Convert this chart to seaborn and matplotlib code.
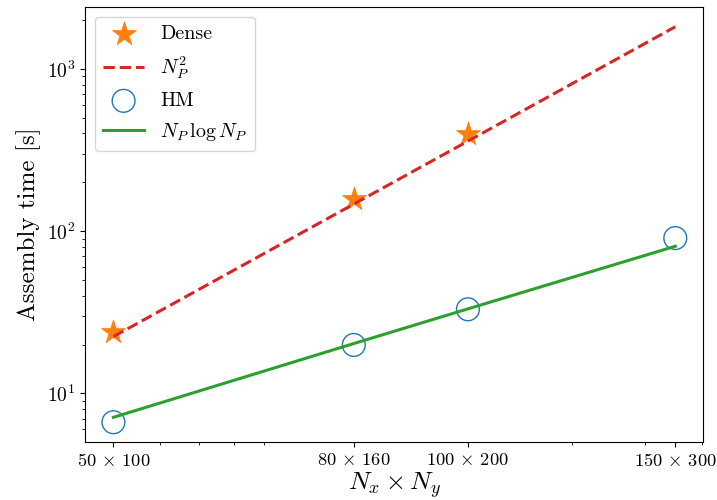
import matplotlib
matplotlib.use("Agg")
import matplotlib.pyplot as plt
import matplotlib.ticker as mticker
import seaborn as sns

# data
n_points = [5000, 12800, 20000, 45000]
x_tick_labels = [r"$50\,\times\,100$", r"$80\,\times\,160$", r"$100\,\times\,200$", r"$150\,\times\,300$"]
dense_x = [5000, 12800, 20000]
dense_time = [23.8, 158.0, 397.0]
hm_time = [6.65, 19.9, 33.0, 90.6]
np2_ref = [22.4, 146.8, 358.4, 1815.0]
nlogn_ref = [7.13, 20.3, 33.2, 80.7]

plt.rcParams["font.family"] = "serif"
plt.rcParams["font.serif"] = ["cmr10", "DejaVu Serif"]
plt.rcParams["mathtext.fontset"] = "cm"
plt.rcParams["axes.formatter.use_mathtext"] = True
plt.rcParams["axes.unicode_minus"] = False

fig, ax = plt.subplots(figsize=(7.17, 5.0), dpi=100)

sns.scatterplot(x=dense_x, y=dense_time, marker="*", s=330, color="tab:orange",
                edgecolor="tab:orange", linewidth=0.5, label="Dense", ax=ax, zorder=2)
sns.lineplot(x=n_points, y=np2_ref, color="tab:red", linestyle="--", linewidth=2.2,
             label=r"$N_P^2$", ax=ax, zorder=3)
sns.scatterplot(x=n_points, y=hm_time, marker="o", s=270, facecolor="none",
                edgecolor="tab:blue", linewidth=1.0, label="HM", ax=ax, zorder=2)
sns.lineplot(x=n_points, y=nlogn_ref, color="tab:green", linewidth=2.2,
             label=r"$N_P\,\log N_P$", ax=ax, zorder=3)

ax.set_xscale("log")
ax.set_yscale("log")
ax.set_xticks(n_points)
ax.set_xticklabels(x_tick_labels)
ax.xaxis.set_minor_formatter(mticker.NullFormatter())
ax.tick_params(axis="x", which="major", labelsize=13.3)
ax.tick_params(axis="y", which="major", labelsize=14)

ax.set_xlabel(r"$N_x \times N_y$", fontsize=18.5, labelpad=1)
ax.set_ylabel("Assembly time [s]", fontsize=18)

ax.legend(loc="upper left", fontsize=14.5, framealpha=0.8, labelspacing=0.55)

fig.subplots_adjust(left=0.119, right=0.981, top=0.986, bottom=0.116)
fig.savefig("out.png", dpi=100)
